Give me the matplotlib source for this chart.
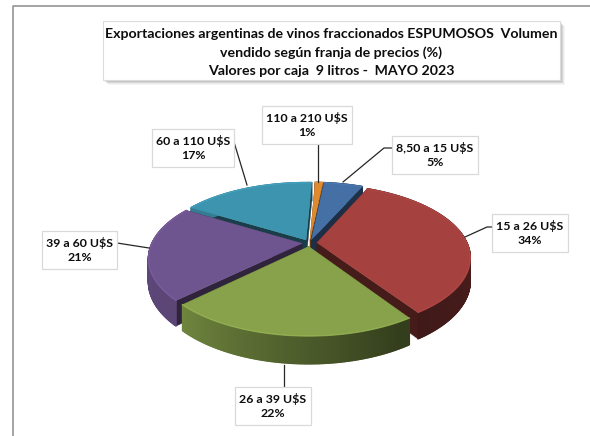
import matplotlib
matplotlib.use('Agg')
import matplotlib.pyplot as plt
from matplotlib.collections import PolyCollection
from matplotlib.colors import to_rgb
from matplotlib.patches import Rectangle
import numpy as np

plt.rcParams['font.family'] = ['Lato', 'DejaVu Sans']

franjas = ['8,50 a 15 U$S', '15 a 26 U$S', '26 a 39 U$S', '39 a 60 U$S', '60 a 110 U$S', '110 a 210 U$S']
valores = [5, 34, 22, 21, 17, 1]
colores = ['#4470A6', '#A5423F', '#87A24B', '#6F5590', '#3D94AE', '#E08A30']
titulo = ('Exportaciones argentinas de vinos fraccionados ESPUMOSOS  Volumen\n'
          'vendido según franja de precios (%)\n'
          'Valores por caja  9 litros -  MAYO 2023')

# pseudo 3d pie, same perspective as the excel one
cx, cy = 309.5, 243
R, S, k = 150, 70, 0.2
prof = 22
expl = 0.05
inicio = 6


def proj(u, v, h=0.0):
    w = 1 - k * v
    return cx + R * u / w, cy + (S * v + h * prof) / w


def lerp_color(c, f):
    return tuple(np.clip(np.array(to_rgb(c)) * f, 0, 1))


def luz(t):
    # side walls get darker going from left to right
    t = (t % 360)
    return np.interp(t, [100, 150, 225, 270], [0.44, 0.38, 0.82, 0.84])


fig = plt.figure(figsize=(5.9, 4.36), dpi=100)
ax = fig.add_axes([0, 0, 1, 1])
ax.set_xlim(0, 590)
ax.set_ylim(436, 0)
ax.axis('off')

# chart frame
ax.plot([12.5, 12.5, 590], [436, 6, 6], color='#8c8c8c', lw=1.1, zorder=1)

acum = inicio + np.cumsum([0] + valores) * 3.6
sectores = []
for i in range(len(valores)):
    sectores.append((acum[i], acum[i + 1], colores[i]))
sectores.sort(key=lambda s: -np.cos(np.radians((s[0] + s[1]) / 2)))

z = 3
for a0, a1, col in sectores:
    mid = np.radians((a0 + a1) / 2)
    du, dv = expl * np.sin(mid), -expl * np.cos(mid)
    th = np.radians(np.linspace(a0, a1, max(int(a1 - a0) * 2, 4)))
    us = du + np.sin(th)
    vs = dv - np.cos(th)

    # radial walls
    for ang in (a0, a1):
        r = np.radians(ang)
        ue, ve = du + np.sin(r), dv - np.cos(r)
        pts = [proj(du, dv), proj(ue, ve), proj(ue, ve, 1), proj(du, dv, 1)]
        ax.fill(*zip(*pts), color=lerp_color(col, 0.42), lw=0.3, zorder=z)
    z += 1

    # outer wall, one quad per step for the shading
    quads, cols = [], []
    for j in range(len(th) - 1):
        quads.append([proj(us[j], vs[j]), proj(us[j + 1], vs[j + 1]),
                      proj(us[j + 1], vs[j + 1], 1), proj(us[j], vs[j], 1)])
        cols.append(lerp_color(col, luz(np.degrees(th[j]))))
    ax.add_collection(PolyCollection(quads, facecolors=cols, edgecolors=cols, linewidths=1.0, zorder=z))
    z += 1

    # top face
    tx, ty = proj(np.r_[du, us], np.r_[dv, vs])
    ax.fill(tx, ty, color=col, lw=0.3, zorder=z)
    ox, oy = proj(us, vs)
    ax.plot(ox, oy, color=lerp_color(col, 1.14), lw=1.0, alpha=0.7, zorder=z)
    z += 1

# title box with its shadow
for off, al in ((5, 0.06), (4, 0.08), (3, 0.12), (2, 0.16)):
    ax.add_patch(Rectangle((103 + off, 21 + off), 457, 59, fc='#606060', ec='none', alpha=al, zorder=30))
ax.add_patch(Rectangle((103, 21), 457, 59, fc='white', ec='#dcdcdc', lw=0.8, zorder=31))
ax.text(331.5, 52.5, titulo, ha='center', va='center', fontsize=10.15, fontweight='bold',
        linespacing=1.6, color='#0d0d0d', zorder=32)

# label boxes (x0, y0, x1, y1) and leader lines, same order as franjas
cajas = [(392, 136, 478, 174), (492, 214, 568, 252), (235, 387, 311, 425),
         (42, 231, 117, 269), (152, 129, 234, 167), (262, 106, 352, 144)]
guias = [[(392, 148), (384, 148), (343, 182)],
         [(492, 227), (487, 227), (465, 237)],
         [(284, 387), (284, 365)],
         [(117, 243), (149, 248)],
         [(234, 142), (247, 185)],
         [(318, 144), (318, 182)]]
for nom, val, c, g in zip(franjas, valores, cajas, guias):
    ax.plot(*zip(*g), color='#262626', lw=0.9, zorder=33)
    ax.add_patch(Rectangle((c[0], c[1]), c[2] - c[0], c[3] - c[1], fc='white', ec='#d9d9d9', lw=0.9, zorder=34))
    ax.text((c[0] + c[2]) / 2, (c[1] + c[3]) / 2, f'{nom}\n{val}%', ha='center', va='center',
            fontsize=8.9, fontweight='bold', linespacing=1.38, color='#0d0d0d', zorder=35)

fig.savefig('out.png', dpi=100, facecolor='white')
